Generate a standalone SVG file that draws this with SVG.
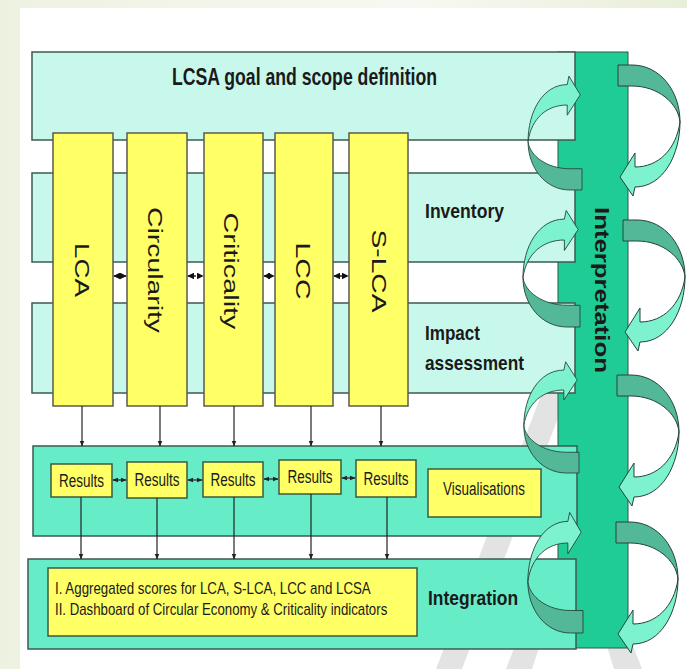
<svg xmlns="http://www.w3.org/2000/svg" xmlns:xlink="http://www.w3.org/1999/xlink" width="687" height="669" viewBox="0 0 687 669">
<style>
.band{fill:#C8F8EB;stroke:#3C5A50;stroke-width:1.5}
.mid{fill:#66EDC8;stroke:#3C5A50;stroke-width:1.5}
.col{fill:#FFFF66;stroke:#5A5A50;stroke-width:1.5}
.res{fill:#FFFF66;stroke:#3C5A3C;stroke-width:1.5}
.bar{fill:#20CC96;stroke:#2B5A4A;stroke-width:1}
.dk{fill:#52B898;stroke:#24443A;stroke-width:1}
.lt{fill:#7DF2CE;stroke:#24443A;stroke-width:1}
.wm{fill:#E3E3E3}
.t{font-family:"Liberation Sans",Arial,sans-serif;fill:#1a1a1a}
.b{font-weight:bold}
.conn line{stroke:#222;stroke-width:1.2}
.conn line.dash{stroke-dasharray:3 2;stroke-width:1.5}
</style>
<defs>
<linearGradient id="topg" x1="0" y1="0" x2="1" y2="0">
<stop offset="0" stop-color="#EDF2E0"/>
<stop offset="0.6" stop-color="#F8F8F2"/>
<stop offset="1" stop-color="#E8EFD9"/>
</linearGradient>
<marker id="ah" viewBox="0 0 10 10" refX="9" refY="5" markerWidth="6" markerHeight="6" markerUnits="userSpaceOnUse" orient="auto-start-reverse">
<path d="M0,1 L10,5 L0,9 Z" fill="#222"/>
</marker>
<marker id="ah2" viewBox="0 0 10 10" refX="9" refY="5" markerWidth="7" markerHeight="7" markerUnits="userSpaceOnUse" orient="auto-start-reverse">
<path d="M0,0 L10,5 L0,10 Z" fill="#111"/>
</marker>
<g id="loop">
<path class="dk" d="M0,0 L14,0 C42,0 62,26 62,57 C60,38 40,21 14,21 L0,21 Z"/>
<path class="lt" d="M62,57 C62,90 45,122 17,122 L15,131 L2,112 L17,88 L17,102 C40,102 58,85 62,57 Z"/>
</g>
<g id="loopL">
<path class="dk" d="M0,0 L14,0 C42,0 62,26 62,57 C60,40 40,25 14,25 L0,25 Z"/>
<path class="lt" d="M62,57 C62,92 45,124 17,124 L15,134 L2,112 L17,88 L17,100 C40,100 58,85 62,57 Z"/>
</g>
</defs>
<rect width="687" height="669" fill="url(#topg)"/>
<rect x="20" y="8" width="667" height="661" fill="#FFFFFF"/>

<g id="watermark">
<path class="wm" d="M545,385 L568,392 L462,669 L436,669 Z"/>
<path class="wm" d="M548,560 L568,560 L532,669 L506,669 Z"/>
<path class="wm" d="M580,560 L600,560 L642,669 L614,669 Z"/>
</g>

<g id="interpretation">
<rect class="bar" x="558" y="52" width="70" height="596"/>
</g>
<g id="goal">
<rect class="band" x="32" y="52" width="543" height="88"/>
<text class="t b" x="304.5" y="76" font-size="24" text-anchor="middle" dominant-baseline="central" textLength="265" lengthAdjust="spacingAndGlyphs">LCSA goal and scope definition</text>
</g>
<g id="inventory">
<rect class="band" x="32" y="173" width="543" height="89"/>
<text class="t b" x="425" y="210" font-size="21" dominant-baseline="central" textLength="79" lengthAdjust="spacingAndGlyphs">Inventory</text>
</g>
<g id="impact">
<rect class="band" x="32" y="303" width="543" height="90"/>
<text class="t b" x="425" y="332" font-size="21" dominant-baseline="central" textLength="55" lengthAdjust="spacingAndGlyphs">Impact</text>
<text class="t b" x="425" y="362" font-size="21" dominant-baseline="central" textLength="99" lengthAdjust="spacingAndGlyphs">assessment</text>
</g>

<g id="col-lca">
<rect class="col" x="53" y="133" width="60" height="273"/>
<text class="t" transform="translate(82.5,270) rotate(90)" font-size="21" text-anchor="middle" dominant-baseline="central" textLength="54" lengthAdjust="spacingAndGlyphs">LCA</text>
</g>
<g id="col-circularity">
<rect class="col" x="127" y="133" width="60" height="273"/>
<text class="t" transform="translate(155,270) rotate(90)" font-size="21" text-anchor="middle" dominant-baseline="central" textLength="126" lengthAdjust="spacingAndGlyphs">Circularity</text>
</g>
<g id="col-criticality">
<rect class="col" x="204" y="133" width="59" height="273"/>
<text class="t" transform="translate(231.5,271) rotate(90)" font-size="21" text-anchor="middle" dominant-baseline="central" textLength="117" lengthAdjust="spacingAndGlyphs">Criticality</text>
</g>
<g id="col-lcc">
<rect class="col" x="275" y="133" width="58" height="273"/>
<text class="t" transform="translate(303.5,271) rotate(90)" font-size="21" text-anchor="middle" dominant-baseline="central" textLength="57" lengthAdjust="spacingAndGlyphs">LCC</text>
</g>
<g id="col-slca">
<rect class="col" x="349" y="133" width="59" height="273"/>
<text class="t" transform="translate(379.5,271) rotate(90)" font-size="21" text-anchor="middle" dominant-baseline="central" textLength="83" lengthAdjust="spacingAndGlyphs">S-LCA</text>
</g>

<g id="results-band">
<rect class="mid" x="33" y="446" width="544" height="90"/>
</g>
<g id="res1"><rect class="res" x="51" y="464" width="61" height="33"/><text class="t" x="81.5" y="481" font-size="18" text-anchor="middle" dominant-baseline="central" textLength="45" lengthAdjust="spacingAndGlyphs">Results</text></g>
<g id="res2"><rect class="res" x="127" y="462" width="60" height="36"/><text class="t" x="157" y="480" font-size="18" text-anchor="middle" dominant-baseline="central" textLength="45" lengthAdjust="spacingAndGlyphs">Results</text></g>
<g id="res3"><rect class="res" x="203" y="462" width="60" height="35"/><text class="t" x="233" y="479.5" font-size="18" text-anchor="middle" dominant-baseline="central" textLength="45" lengthAdjust="spacingAndGlyphs">Results</text></g>
<g id="res4"><rect class="res" x="279" y="460" width="62" height="34"/><text class="t" x="310" y="477" font-size="18" text-anchor="middle" dominant-baseline="central" textLength="45" lengthAdjust="spacingAndGlyphs">Results</text></g>
<g id="res5"><rect class="res" x="356" y="460" width="60" height="37"/><text class="t" x="386" y="478.5" font-size="18" text-anchor="middle" dominant-baseline="central" textLength="45" lengthAdjust="spacingAndGlyphs">Results</text></g>
<g id="visualisations"><rect class="res" x="428" y="469" width="113" height="48"/><text class="t" x="484" y="489" font-size="18" text-anchor="middle" dominant-baseline="central" textLength="82" lengthAdjust="spacingAndGlyphs">Visualisations</text></g>

<g id="integration">
<rect class="mid" x="28" y="559" width="548" height="90"/>
<rect class="res" x="48" y="568" width="369" height="68"/>
<text class="t" transform="translate(55,588) scale(0.75,1)" font-size="17" dominant-baseline="central" textLength="421" lengthAdjust="spacingAndGlyphs">I. Aggregated scores for LCA, S-LCA, LCC and LCSA</text>
<text class="t" transform="translate(55,609) scale(0.75,1)" font-size="17" dominant-baseline="central" textLength="443" lengthAdjust="spacingAndGlyphs">II. Dashboard of Circular Economy &amp; Criticality indicators</text>
<text class="t b" transform="translate(428,597) scale(0.85,1)" font-size="21" dominant-baseline="central" textLength="106" lengthAdjust="spacingAndGlyphs">Integration</text>
</g>

<g id="connectors" class="conn">
<line class="dash" x1="114" y1="276" x2="126" y2="276" marker-start="url(#ah2)" marker-end="url(#ah2)"/>
<line class="dash" x1="188" y1="276" x2="203" y2="276" marker-start="url(#ah2)" marker-end="url(#ah2)"/>
<line class="dash" x1="264" y1="276" x2="274" y2="276" marker-start="url(#ah2)" marker-end="url(#ah2)"/>
<line class="dash" x1="334" y1="276" x2="348" y2="276" marker-start="url(#ah2)" marker-end="url(#ah2)"/>
<line x1="82" y1="406" x2="82" y2="446" marker-end="url(#ah)"/>
<line x1="160" y1="406" x2="160" y2="446" marker-end="url(#ah)"/>
<line x1="234" y1="406" x2="234" y2="446" marker-end="url(#ah)"/>
<line x1="311" y1="406" x2="311" y2="446" marker-end="url(#ah)"/>
<line x1="381" y1="406" x2="381" y2="446" marker-end="url(#ah)"/>
<line x1="113" y1="480" x2="126" y2="480" marker-start="url(#ah)" marker-end="url(#ah)"/>
<line x1="188" y1="480" x2="202" y2="480" marker-start="url(#ah)" marker-end="url(#ah)"/>
<line x1="264" y1="479" x2="278" y2="479" marker-start="url(#ah)" marker-end="url(#ah)"/>
<line x1="342" y1="478" x2="355" y2="478" marker-start="url(#ah)" marker-end="url(#ah)"/>
<line x1="81" y1="497" x2="81" y2="559" marker-end="url(#ah)"/>
<line x1="157" y1="498" x2="157" y2="559" marker-end="url(#ah)"/>
<line x1="234" y1="497" x2="234" y2="559" marker-end="url(#ah)"/>
<line x1="311" y1="494" x2="311" y2="559" marker-end="url(#ah)"/>
<line x1="387" y1="497" x2="387" y2="559" marker-end="url(#ah)"/>
</g>

<g id="interpretation-label">
<text class="t b" transform="translate(602,290) rotate(90)" font-size="20" text-anchor="middle" dominant-baseline="central" textLength="166" lengthAdjust="spacingAndGlyphs">Interpretation</text>
</g>

<g id="loops">
<use href="#loop" transform="translate(618,65)"/>
<use href="#loop" transform="translate(623,220)"/>
<use href="#loop" transform="translate(617,375)"/>
<use href="#loop" transform="translate(616,522)"/>
<use href="#loopL" transform="translate(582,190) rotate(180) scale(0.87,0.85)"/>
<use href="#loopL" transform="translate(580,327) rotate(180) scale(0.92,0.87)"/>
<use href="#loopL" transform="translate(579,473) rotate(180) scale(0.89,0.83)"/>
<use href="#loopL" transform="translate(583,633) rotate(180) scale(0.89,0.9)"/>
</g>
</svg>
